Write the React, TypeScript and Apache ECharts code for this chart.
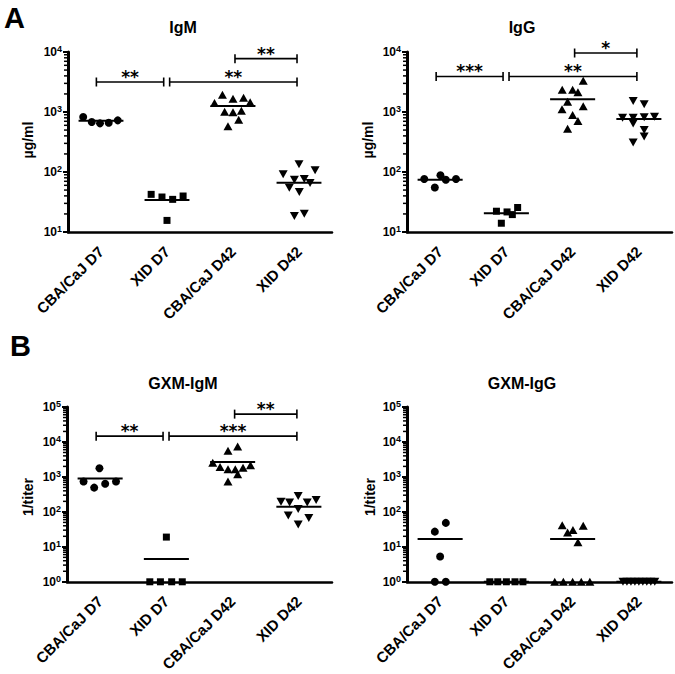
import React, { useEffect, useRef } from 'react';
import * as echarts from 'echarts';

const FONT = "'Liberation Sans', Arial, Helvetica, sans-serif";

const categories = ['CBA/CaJ D7', 'XID D7', 'CBA/CaJ D42', 'XID D42'];
const panelTitles = ['IgM', 'IgG', 'GXM-IgM', 'GXM-IgG'];
const yNames = ['µg/ml', 'µg/ml', '1/titer', '1/titer'];
const panelLetters = ['A', 'B'];

// IgM (µg/ml)
const igmCbaD7 = [826, 681, 647, 664, 726];
const igmCbaD7Jitter = [-0.27, -0.14, -0.015, 0.117, 0.254];
const igmXidD7 = [42.4, 38.3, 35, 39.8, 15.6];
const igmXidD7Jitter = [-0.24, -0.076, 0.086, 0.244, 0];
const igmCbaD42 = [1945, 1668, 1733, 1413, 1449, 1013, 987, 1052, 745, 577];
const igmCbaD42Jitter = [-0.16, 0, 0.16, -0.28, 0.26, -0.127, 0, 0.127, 0.086, -0.076];
const igmXidD42 = [91.5, 134, 107, 74.5, 76.4, 54.8, 46.4, 65.6, 18.5, 20.2];
const igmXidD42Jitter = [-0.24, 0, 0.244, -0.07, 0.08, -0.147, 0.005, 0.168, -0.07, 0.08];
const igmMeans = [717, 34.1, 1259, 66.4];
const igmBrackets: [number, number, number, string][] = [
  [-0.07, 0.95, 3162, '**'],
  [1.04, 2.97, 3162, '**'],
  [2.03, 2.97, 7743, '**'],
];

// IgG (µg/ml)
const iggCbaD7 = [76.4, 55.3, 88, 74.5, 76.4];
const iggCbaD7Jitter = [-0.24, -0.08, 0.005, 0.086, 0.24];
const iggXidD7 = [22.2, 21.6, 19.5, 25.6, 14];
const iggXidD7Jitter = [-0.15, 0.01, 0.09, 0.17, -0.076];
const iggCbaD42 = [3311, 2339, 2339, 2138, 1488, 1245, 1109, 891, 707, 526];
const iggCbaD42Jitter = [0.16, -0.157, 0, 0.08, -0.076, 0.16, -0.16, 0, 0.08, -0.076];
const iggXidD42 = [1528, 1343, 803, 803, 814, 836, 646, 499, 391, 310];
const iggXidD42Jitter = [-0.086, 0.08, -0.246, -0.086, 0.08, 0.236, -0.086, 0.08, 0.08, -0.086];
const iggMeans = [74.5, 20.6, 1629, 764];
const iggBrackets: [number, number, number, string][] = [
  [-0.06, 0.95, 3908, '***'],
  [1.04, 2.97, 3908, '**'],
  [2.03, 2.97, 9620, '*'],
];

// GXM-IgM (1/titer)
const gxmIgmCbaD7 = [1778, 741, 494, 639, 741];
const gxmIgmCbaD7Jitter = [-0.01, -0.25, -0.09, 0.076, 0.24];
const gxmIgmXidD7 = [19, 1, 1, 1, 1];
const gxmIgmXidD7Jitter = [0, -0.25, -0.09, 0.08, 0.24];
const gxmIgmCbaD42 = [5623, 7413, 2553, 1936, 1668, 1668, 1815, 2154, 1186, 741];
const gxmIgmCbaD42Jitter = [-0.07, 0.076, -0.3, -0.19, -0.07, 0.04, 0.157, 0.27, 0.076, -0.07];
const gxmIgmXidD42 = [194, 186, 284, 186, 220, 121, 79, 66.7, 43.6];
const gxmIgmXidD42Jitter = [-0.27, -0.14, -0.01, 0.126, 0.26, -0.01, -0.16, 0.15, -0.01];
const gxmIgmMeans = [900, 4.45, 2667, 141];
const gxmIgmBrackets: [number, number, number, string][] = [
  [-0.06, 0.95, 14678, '**'],
  [1.04, 2.97, 14678, '***'],
  [2.03, 2.97, 62550, '**'],
];

// GXM-IgG (1/titer)
const gxmIggCbaD7 = [48.4, 27.2, 5.27, 1, 1];
const gxmIggCbaD7Jitter = [0.086, -0.08, 0, -0.08, 0.086];
const gxmIggXidD7 = [1, 1, 1, 1, 1];
const gxmIggXidD7Jitter = [-0.25, -0.13, 0, 0.13, 0.25];
const gxmIggCbaD42 = [41.7, 40, 25.5, 30.3, 13.5, 1, 1, 1, 1, 1];
const gxmIggCbaD42Jitter = [-0.157, 0.16, -0.076, 0.005, 0.08, -0.27, -0.14, 0, 0.13, 0.26];
const gxmIggXidD42 = [1, 1, 1, 1, 1, 1, 1, 1, 1];
const gxmIggXidD42Jitter = [-0.24, -0.18, -0.12, -0.06, 0, 0.06, 0.12, 0.18, 0.24];
const gxmIggMeans = [16.7, 1, 16.7, 1];
const gxmIggBrackets: [number, number, number, string][] = [];

const panels = [
  {
    grid: { left: 68, top: 52, width: 264, height: 180 },
    min: 10, max: 10000,
    groups: [[igmCbaD7, igmCbaD7Jitter], [igmXidD7, igmXidD7Jitter], [igmCbaD42, igmCbaD42Jitter], [igmXidD42, igmXidD42Jitter]],
    means: igmMeans, brackets: igmBrackets,
    title: [183, 27], yName: [28, 140],
  },
  {
    grid: { left: 407, top: 52, width: 265, height: 180 },
    min: 10, max: 10000,
    groups: [[iggCbaD7, iggCbaD7Jitter], [iggXidD7, iggXidD7Jitter], [iggCbaD42, iggCbaD42Jitter], [iggXidD42, iggXidD42Jitter]],
    means: iggMeans, brackets: iggBrackets,
    title: [522, 27], yName: [368, 140],
  },
  {
    grid: { left: 67, top: 407, width: 265, height: 180 },
    min: 1, max: 100000,
    groups: [[gxmIgmCbaD7, gxmIgmCbaD7Jitter], [gxmIgmXidD7, gxmIgmXidD7Jitter], [gxmIgmCbaD42, gxmIgmCbaD42Jitter], [gxmIgmXidD42, gxmIgmXidD42Jitter]],
    means: gxmIgmMeans, brackets: gxmIgmBrackets,
    title: [183, 383], yName: [28, 497],
  },
  {
    grid: { left: 407, top: 407, width: 265, height: 180 },
    min: 1, max: 100000,
    groups: [[gxmIggCbaD7, gxmIggCbaD7Jitter], [gxmIggXidD7, gxmIggXidD7Jitter], [gxmIggCbaD42, gxmIggCbaD42Jitter], [gxmIggXidD42, gxmIggXidD42Jitter]],
    means: gxmIggMeans, brackets: gxmIggBrackets,
    title: [522, 383], yName: [370, 497],
  },
];

const symbols = ['circle', 'rect', 'triangle', 'triangle'];
const symbolSizes: any[] = [8, 7, [9, 8], [9, 8]];
const symbolRotates = [0, 0, 0, 180];

function minorTickData(min: number, max: number) {
  const out: number[][] = [];
  const lo = Math.round(Math.log10(min));
  const hi = Math.round(Math.log10(max));
  for (let k = lo; k < hi; k++) {
    for (let m = 2; m <= 9; m++) out.push([-0.5, m * Math.pow(10, k)]);
  }
  return out;
}

function buildOption(): any {
  const grid: any[] = [];
  const xAxis: any[] = [];
  const yAxis: any[] = [];
  const series: any[] = [];
  panels.forEach((p, pi) => {
    grid.push({ ...p.grid, containLabel: false });
    xAxis.push({
      type: 'category',
      gridIndex: pi,
      data: categories,
      boundaryGap: true,
      axisLine: { onZero: false, lineStyle: { color: '#000', width: 2.5 } },
      axisTick: { alignWithLabel: true, length: 5, lineStyle: { color: '#000', width: 2 } },
      axisLabel: {
        rotate: 45, margin: 17, color: '#000', fontFamily: FONT, fontWeight: 'bold', fontSize: 15,
        interval: 0,
      },
      splitLine: { show: false },
    });
    xAxis.push({
      type: 'value', gridIndex: pi, min: -0.5, max: 3.5, show: false,
      axisLine: { onZero: false },
      splitLine: { show: false },
    });
    yAxis.push({
      type: 'log', logBase: 10, gridIndex: pi, min: p.min, max: p.max,
      axisLine: { show: true, onZero: false, lineStyle: { color: '#000', width: 3 } },
      axisTick: { show: true, length: 5, lineStyle: { color: '#000', width: 2 } },
      splitLine: { show: false },
      minorTick: { show: false },
      axisLabel: {
        margin: 6,
        formatter: (v: number) => `{b|10}{s|${Math.round(Math.log10(v))}}`,
        rich: {
          b: { fontSize: 12, fontWeight: 'bold', fontFamily: FONT, color: '#000', lineHeight: 15 },
          s: { fontSize: 9, fontWeight: 'bold', fontFamily: FONT, color: '#000', verticalAlign: 'top', lineHeight: 9 },
        },
      },
    });
    const xi = pi * 2 + 1;
    p.groups.forEach(([vals, jit], g) => {
      series.push({
        type: 'scatter', xAxisIndex: xi, yAxisIndex: pi,
        symbol: symbols[g], symbolSize: symbolSizes[g], symbolRotate: symbolRotates[g],
        itemStyle: { color: '#000', opacity: 1 },
        clip: false, silent: true,
        data: vals.map((v, i) => [g + jit[i], v]),
      });
    });
    series.push({
      type: 'custom', xAxisIndex: xi, yAxisIndex: pi, silent: true, clip: false,
      data: p.means.map((m, g) => [g, m]),
      renderItem: (params: any, api: any) => {
        const c = api.value(0);
        const y = api.value(1);
        const a = api.coord([c - 0.34, y]);
        const b = api.coord([c + 0.34, y]);
        return { type: 'line', shape: { x1: a[0], y1: a[1], x2: b[0], y2: b[1] }, style: { stroke: '#000', lineWidth: 2 } };
      },
    });
    if (p.brackets.length) {
      series.push({
        type: 'custom', xAxisIndex: xi, yAxisIndex: pi, silent: true, clip: false,
        data: p.brackets.map((b) => [b[0], b[1], b[2]]),
        encode: { x: [0, 1], y: 2 },
        renderItem: (params: any, api: any) => {
          const a = api.coord([api.value(0), api.value(2)]);
          const b = api.coord([api.value(1), api.value(2)]);
          const label = p.brackets[params.dataIndex][3];
          const st = { stroke: '#000', lineWidth: 1.6 };
          return {
            type: 'group',
            children: [
              { type: 'line', shape: { x1: a[0], y1: a[1], x2: b[0], y2: b[1] }, style: st },
              { type: 'line', shape: { x1: a[0], y1: a[1] - 4.5, x2: a[0], y2: a[1] + 4.5 }, style: st },
              { type: 'line', shape: { x1: b[0], y1: b[1] - 4.5, x2: b[0], y2: b[1] + 4.5 }, style: st },
              {
                type: 'text', x: (a[0] + b[0]) / 2, y: a[1] - 5,
                style: { text: label, fill: '#000', font: "bold 17px 'DejaVu Sans', sans-serif", align: 'center', verticalAlign: 'middle' },
              },
            ],
          };
        },
      });
    }
    series.push({
      type: 'custom', xAxisIndex: xi, yAxisIndex: pi, silent: true, clip: false,
      data: minorTickData(p.min, p.max),
      renderItem: (params: any, api: any) => {
        const q = api.coord([api.value(0), api.value(1)]);
        return { type: 'line', shape: { x1: q[0] - 4, y1: q[1], x2: q[0], y2: q[1] }, style: { stroke: '#000', lineWidth: 1.5 } };
      },
    });
  });

  const graphic: any[] = [];
  panels.forEach((p, pi) => {
    graphic.push({
      type: 'text', x: p.title[0], y: p.title[1],
      style: { text: panelTitles[pi], fill: '#000', font: `bold 16px ${FONT}`, align: 'center', verticalAlign: 'middle' },
    });
    graphic.push({
      type: 'text', x: p.yName[0], y: p.yName[1], rotation: Math.PI / 2,
      style: { text: yNames[pi], fill: '#000', font: `bold 14px ${FONT}`, align: 'center', verticalAlign: 'middle' },
    });
  });
  graphic.push({
    type: 'text', x: 4, y: 18,
    style: { text: panelLetters[0], fill: '#000', font: `bold 29px ${FONT}`, align: 'left', verticalAlign: 'middle' },
  });
  graphic.push({
    type: 'text', x: 10, y: 346,
    style: { text: panelLetters[1], fill: '#000', font: `bold 29px ${FONT}`, align: 'left', verticalAlign: 'middle' },
  });

  return { animation: false, backgroundColor: '#fff', grid, xAxis, yAxis, series, graphic };
}

export default function App() {
  const ref = useRef<HTMLDivElement>(null);
  useEffect(() => {
    const chart = echarts.init(ref.current!, undefined, { renderer: 'svg' });
    chart.setOption(buildOption());
    return () => chart.dispose();
  }, []);
  return (
    <div
      ref={ref}
      style={{ position: 'absolute', left: 0, top: 0, width: 675, height: 674, background: '#fff' }}
    />
  );
}
